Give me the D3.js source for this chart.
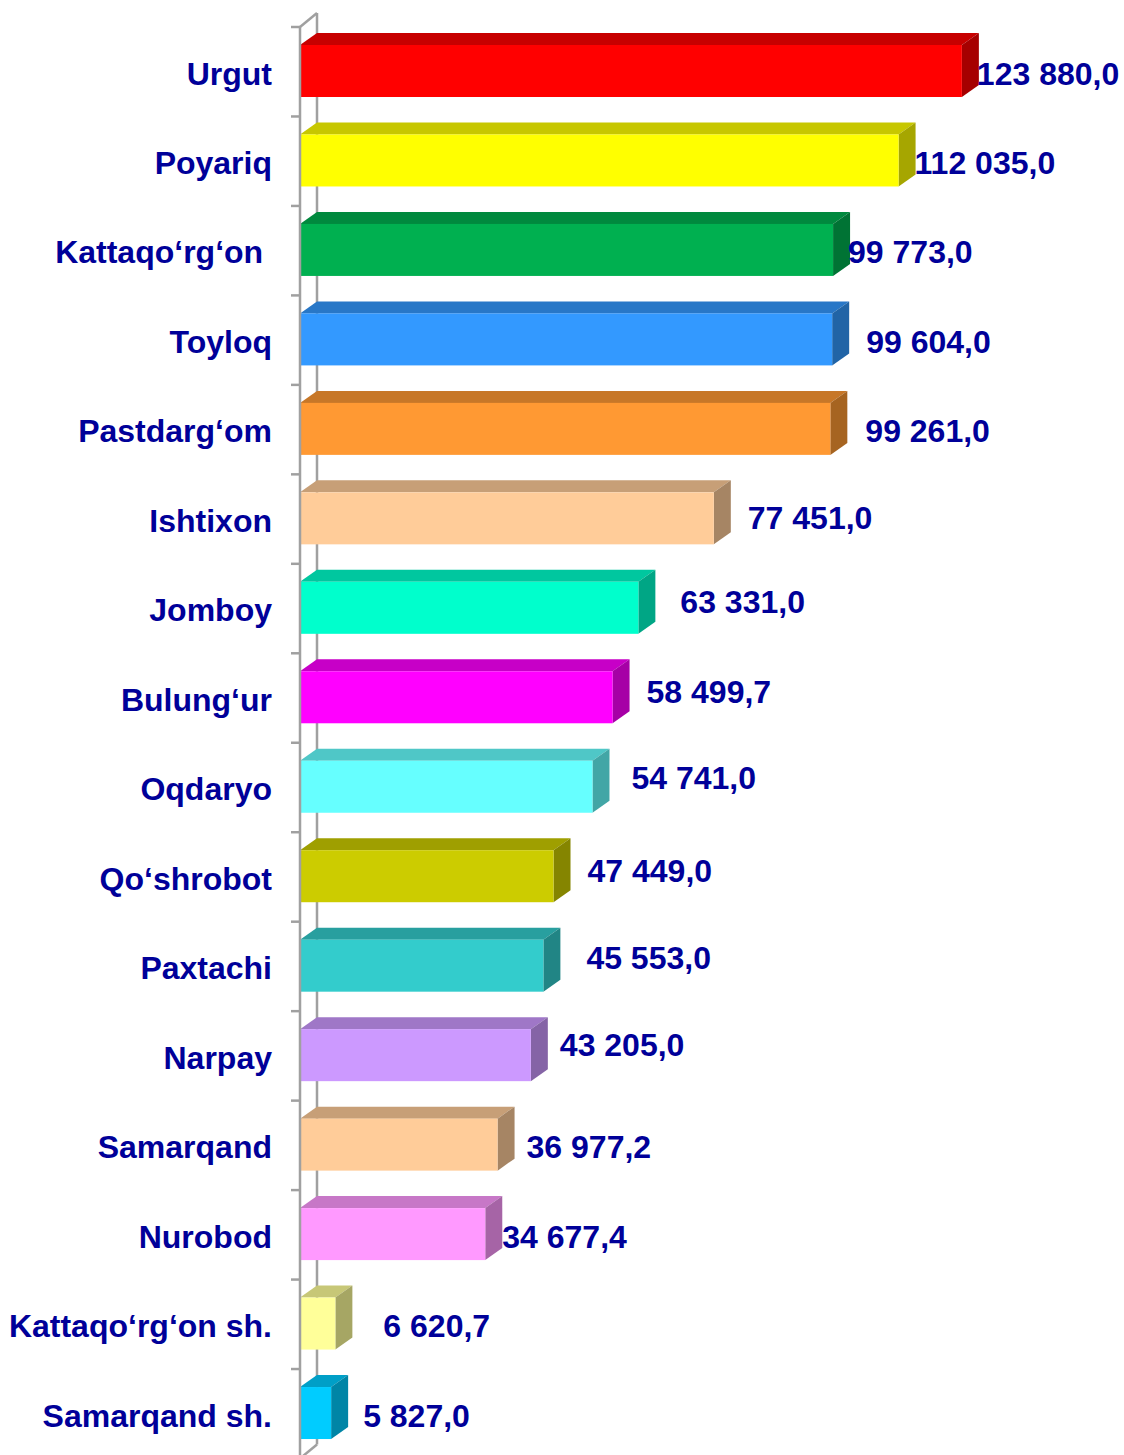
<!DOCTYPE html>
<html>
<head>
<meta charset="utf-8">
<script src="https://cdn.jsdelivr.net/npm/d3@7"></script>
<style>
  html, body { margin: 0; padding: 0; background: #fff; }
  svg { display: block; }
</style>
</head>
<body>
<svg id="chart" width="1124" height="1455"></svg>
<script>
// Districts of Samarqand region, top to bottom
const categories = [
  "Urgut", "Poyariq", "Kattaqo‘rg‘on ", "Toyloq", "Pastdarg‘om", "Ishtixon",
  "Jomboy", "Bulung‘ur", "Oqdaryo", "Qo‘shrobot", "Paxtachi", "Narpay",
  "Samarqand", "Nurobod", "Kattaqo‘rg‘on sh.", "Samarqand sh."
];
const values = [
  123880.0, 112035.0, 99773.0, 99604.0, 99261.0, 77451.0,
  63331.0, 58499.7, 54741.0, 47449.0, 45553.0, 43205.0,
  36977.2, 34677.4, 6620.7, 5827.0
];
const barColors = [
  "#FF0000", "#FFFF00", "#00B050", "#3399FF", "#FF9933", "#FFCC99",
  "#00FFCC", "#FF00FF", "#66FFFF", "#CCCC00", "#33CCCC", "#CC99FF",
  "#FFCC99", "#FF99FF", "#FFFF99", "#00CCFF"
];
// Hand placement of the value labels relative to the bar end
const labelNudgeX = [-2, -1, -2, 17, 18, 17, 25, 17, 22, 17, 26, 12, 12, 0, 31, 15];
const labelNudgeY = [0, 0, 0, 0, 0, -3, -8, -8, -11, -8, -10, -13, 0, 0, 0, 0];

const svg = d3.select("#chart");
const textColor = "#000099";
const font = "'Liberation Sans', Arial, sans-serif";

const x = d3.scaleLinear().domain([0, 140000]).range([300, 1048]);
const y = d3.scaleBand().domain(categories).range([27, 1458.5]).padding(0);

const depthX = 17, depthY = -12;     // bar depth offset
const wallX = 17, wallY = -14;       // wall depth offset
const frontTop = 18, frontH = 52;    // front face inside each band

const fmt = d3.formatLocale({ decimal: ",", thousands: " ", grouping: [3] }).format(",.1f");

const gray = "#a0a0a0";

// back wall edge and the top/bottom connectors
const wall = svg.append("g");
wall.append("line")
  .attr("x1", x(0) + wallX).attr("x2", x(0) + wallX)
  .attr("y1", y.range()[0] + wallY).attr("y2", y.range()[1] + wallY)
  .attr("stroke", gray).attr("stroke-width", 2.5);
wall.append("line")
  .attr("x1", x(0)).attr("y1", y.range()[0])
  .attr("x2", x(0) + wallX).attr("y2", y.range()[0] + wallY)
  .attr("stroke", gray).attr("stroke-width", 2.5);
wall.append("line")
  .attr("x1", x(0)).attr("y1", y.range()[1])
  .attr("x2", x(0) + wallX).attr("y2", y.range()[1] + wallY)
  .attr("stroke", gray).attr("stroke-width", 2.5);

// 3D bars: front, top and side faces
const bars = svg.append("g").selectAll("g.bar")
  .data(categories.map((c, i) => ({ c, v: values[i], col: barColors[i], i })))
  .join("g").attr("class", "bar");

bars.each(function (d) {
  const g = d3.select(this);
  const x0 = x(0), x1 = x(d.v);
  const t = y(d.c) + frontTop, b = t + frontH;
  const base = d3.color(d.col);
  const topCol = base.darker(0.7);
  const sideCol = base.darker(1.2);
  g.append("path")
    .attr("d", `M${x0},${t}L${x0 + depthX},${t + depthY}L${x1 + depthX},${t + depthY}L${x1},${t}Z`)
    .attr("fill", topCol);
  g.append("path")
    .attr("d", `M${x1},${t}L${x1 + depthX},${t + depthY}L${x1 + depthX},${b + depthY}L${x1},${b}Z`)
    .attr("fill", sideCol);
  g.append("rect")
    .attr("x", x0).attr("y", t)
    .attr("width", x1 - x0).attr("height", frontH)
    .attr("fill", base);
});

// front axis line with tick marks at band boundaries
const axis = svg.append("g");
axis.append("line")
  .attr("x1", x(0)).attr("x2", x(0))
  .attr("y1", y.range()[0]).attr("y2", y.range()[1])
  .attr("stroke", gray).attr("stroke-width", 2.5);
const boundaries = categories.map(c => y(c)).concat([y.range()[1]]);
axis.selectAll("line.tick")
  .data(boundaries)
  .join("line").attr("class", "tick")
  .attr("x1", x(0) - 9).attr("x2", x(0))
  .attr("y1", d => d).attr("y2", d => d)
  .attr("stroke", gray).attr("stroke-width", 2.5);

// category labels
svg.append("g").selectAll("text")
  .data(categories)
  .join("text")
  .attr("x", 272)
  .attr("y", d => y(d) + 46 + 11.5)
  .attr("text-anchor", "end")
  .attr("font-family", font).attr("font-weight", "bold").attr("font-size", 32)
  .attr("fill", textColor)
  .style("white-space", "pre")
  .text(d => d);

// value labels
svg.append("g").selectAll("text")
  .data(values)
  .join("text")
  .attr("x", (d, i) => x(d) + depthX + labelNudgeX[i])
  .attr("y", (d, i) => y(categories[i]) + 46 + 11.5 + labelNudgeY[i])
  .attr("font-family", font).attr("font-weight", "bold").attr("font-size", 32)
  .attr("fill", textColor)
  .text(d => fmt(d));
</script>
</body>
</html>
